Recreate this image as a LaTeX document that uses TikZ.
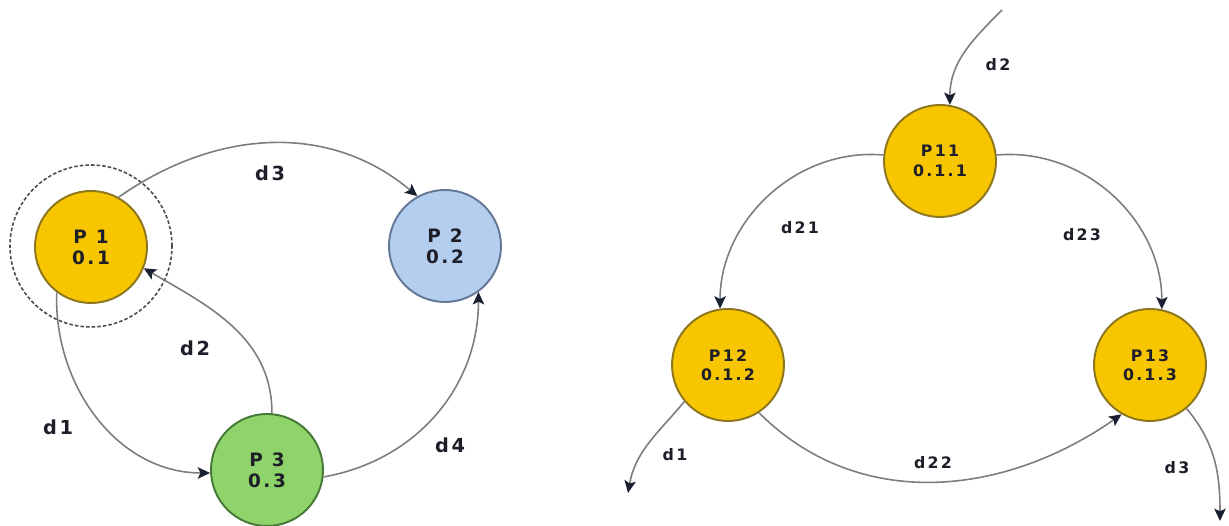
\documentclass[tikz,border=0pt]{standalone}
\usepackage{fontspec}
\newfontfamily\diagfont{DejaVu Sans}[LetterSpace=14]
\definecolor{procgold}{RGB}{247, 198, 0}
\definecolor{procblue}{RGB}{180, 206, 240}
\definecolor{procgreen}{RGB}{142, 212, 106}
\definecolor{goldrim}{RGB}{140, 118, 30}
\definecolor{bluerim}{RGB}{100, 120, 150}
\definecolor{greenrim}{RGB}{70, 120, 55}
\definecolor{wiregray}{RGB}{125, 125, 125}
\definecolor{tipnavy}{RGB}{25, 32, 50}
\definecolor{inkdark}{RGB}{30, 30, 40}
\usetikzlibrary{arrows.meta, positioning}
\tikzset{
    procnode/.style={draw, circle, minimum size=2.24cm, inner sep=0pt, line width=1.1pt, align=center, text=inkdark,
        font=\diagfont\bfseries\fontsize{10.5}{12}\selectfont},
    leftproc/.style={procnode},
    subproc/.style={procnode, fill=procgold, draw=goldrim, font=\diagfont\bfseries\fontsize{9}{11}\selectfont},
    ringbox/.style={draw=inkdark!80, circle, dash pattern=on 2pt off 1.2pt, line width=0.9pt, minimum size=3.24cm, inner sep=0pt},
    flowarrow/.style={-{Stealth[length=7pt, width=6.5pt, inset=1.5pt, color=tipnavy]}, line width=0.9pt, draw=wiregray},
    edgelabel/.style={font=\diagfont\bfseries\fontsize{11}{13}\selectfont, text=inkdark, inner sep=1pt},
    sublabel/.style={edgelabel, font=\diagfont\bfseries\fontsize{9}{11}\selectfont},
}

\begin{document}
\begin{tikzpicture}
    \path[fill=white, use as bounding box] (0,0) rectangle (24.58,10.52);

    % top level processes
    \node[leftproc, fill=procgold, draw=goldrim] (p1) at (1.82,5.58) {P 1\\0.1};
    \node[leftproc, fill=procblue, draw=bluerim] (p2) at (8.90,5.60) {P 2\\0.2};
    \node[leftproc, fill=procgreen, draw=greenrim] (p3) at (5.34,1.12) {P 3\\0.3};
    \node[ringbox] (p1ring) at (1.82,5.60) {};

    \draw[flowarrow] (p1.61) to[out=35, in=140] (p2.119);
    \draw[flowarrow] (p3.85) to[out=90, in=-30] (p1.-22);
    \draw[flowarrow] (p1.233) to[out=268, in=180] (p3.183);
    \draw[flowarrow] (p3.-7) to[out=10, in=-90] (p2.-54);

    \node[edgelabel] (ld3) at (5.40,7.06) {d3};
    \node[edgelabel] (ld2) at (3.90,3.56) {d2};
    \node[edgelabel] (ld1) at (1.16,1.98) {d1};
    \node[edgelabel] (ld4) at (9.00,1.62) {d4};

    % refinement of P1
    \node[subproc] (p11) at (18.80,7.30) {P11\\0.1.1};
    \node[subproc] (p12) at (14.56,3.22) {P12\\0.1.2};
    \node[subproc] (p13) at (23.00,3.22) {P13\\0.1.3};

    \coordinate (din) at (20.04,10.32);
    \coordinate (dout1) at (12.56,0.66);
    \coordinate (dout3) at (24.40,0.10);

    \draw[flowarrow] (din) to[out=225, in=90] (p11.80);
    \draw[flowarrow] (p11.174) to[out=175, in=90] (p12.98);
    \draw[flowarrow] (p11.6) to[out=5, in=90] (p13.78);
    \draw[flowarrow] (p12.-57) to[out=-45, in=215] (p13.-120);
    \draw[flowarrow] (p12.-140) to[out=-130, in=80] (dout1);
    \draw[flowarrow] (p13.-50) to[out=-50, in=90] (dout3);

    \node[sublabel] (sd2) at (19.96,9.22) {d2};
    \node[sublabel] (sd21) at (16.00,5.96) {d21};
    \node[sublabel] (sd23) at (21.64,5.82) {d23};
    \node[sublabel] (sd1) at (13.50,1.42) {d1};
    \node[sublabel] (sd22) at (18.66,1.26) {d22};
    \node[sublabel] (sd3) at (23.54,1.16) {d3};
\end{tikzpicture}
\end{document}
